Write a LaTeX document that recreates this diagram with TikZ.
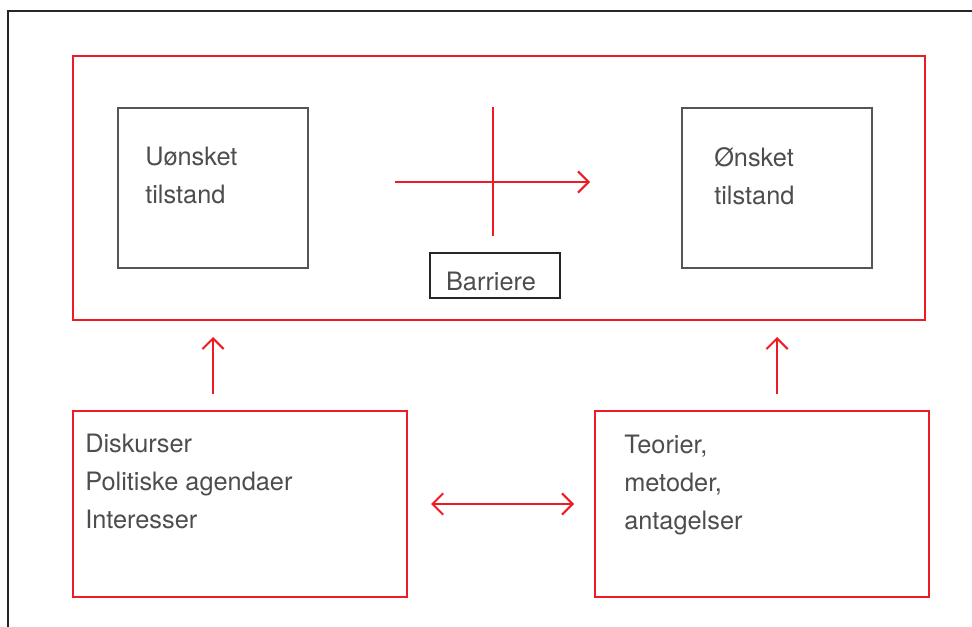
\documentclass[tikz,border=0pt]{standalone}
\usepackage{fontspec}
\setmainfont{TeX Gyre Heros}
\usepackage{xcolor}
\usetikzlibrary{arrows.meta}
\usetikzlibrary{positioning, calc}

\definecolor{boxred}{RGB}{237,28,36}
\definecolor{boxgray}{RGB}{85,85,85}
\definecolor{txtgray}{RGB}{77,77,77}

\tikzset{
    redbox/.style={draw=boxred, line width=1.5pt, inner sep=0pt},
    graybox/.style={draw=boxgray, line width=1.5pt, inner sep=0pt, minimum width=142.5pt, minimum height=120pt},
    txt/.style={text=txtgray, inner sep=0pt, anchor=north west, align=left, font=\fontsize{19}{28.5}\selectfont},
    barb/.tip={Straight Barb[length=8pt,width=16pt,line width=1.5pt]},
    redline/.style={draw=boxred, line width=1.5pt},
    redarrow/.style={redline, -barb}
}

\begin{document}
\begin{tikzpicture}[x=0.75pt, y=-0.75pt]
       \useasboundingbox (0,0) rectangle (972,627);

       % frame
       \draw[line width=1.8pt, black!85] (8,627) -- (8,11) -- (972,11);

       % top part
       \node[redbox, minimum width=639pt, minimum height=198pt] (top) at (499,188) {};
       \node[graybox] (bad) at (213,188) {};
       \node[graybox] (good) at (777,188) {};
       \node[txt] (badtxt) at (145,147) {Uønsket\\tilstand};
       \node[txt] (goodtxt) at (714,147) {Ønsket\\tilstand};

       \node[draw=black!85, line width=1.5pt, inner sep=0pt, minimum width=97.5pt, minimum height=33.75pt,
             text height=21.8pt, text depth=0pt,
             text=txtgray, font=\fontsize{19}{28.5}\selectfont] (barrier) at (495,275.5) {\hspace*{-6pt}Barriere};

       \coordinate (from) at (395,182);
       \coordinate (to) at (590,182);
       \coordinate (bartop) at (493,107);
       \coordinate (barbot) at (493,236);
       \draw[redarrow] (from) -- (to);
       \draw[redline] (bartop) -- (barbot);

       % bottom part
       \node[redbox, minimum width=250.5pt, minimum height=139.5pt] (dis) at (240,504) {};
       \node[redbox, minimum width=250.5pt, minimum height=139.5pt] (teo) at (762,504) {};
       \node[txt] (distxt) at (85,434) {Diskurser\\Politiske agendaer\\Interesser};
       \node[txt] (teotxt) at (624,435) {Teorier,\\metoder,\\antagelser};

       \draw[redarrow, shorten <=12pt, shorten >=12pt] (bad |- dis.north) -- (bad |- top.south);
       \draw[redarrow, shorten <=12pt, shorten >=12pt] (good |- teo.north) -- (good |- top.south);
       \draw[redline, barb-barb, shorten <=17.25pt, shorten >=15pt] (dis.east) -- (teo.west);

\end{tikzpicture}
\end{document}
